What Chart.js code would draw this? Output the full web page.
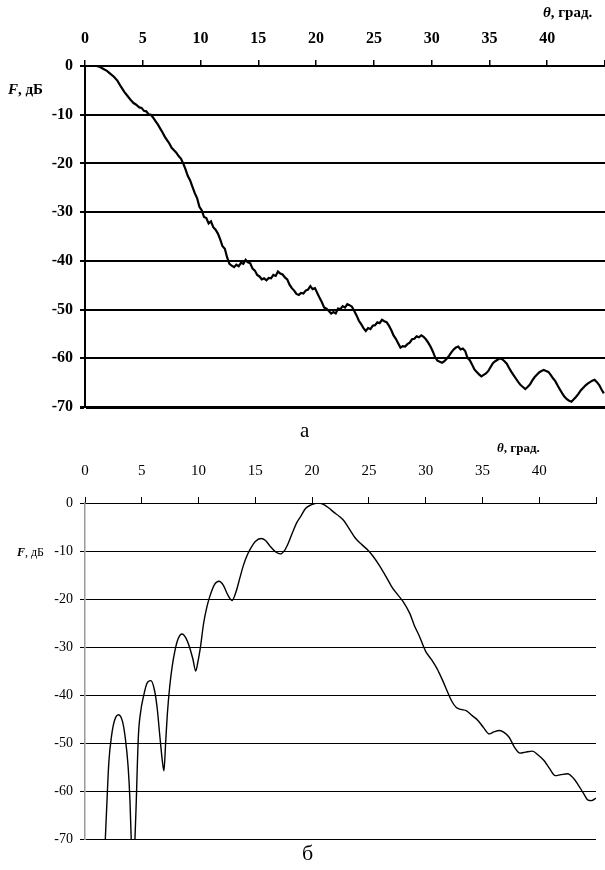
<!DOCTYPE html>
<html>
<head>
<meta charset="utf-8">
<script src="https://cdn.jsdelivr.net/npm/chart.js@4.4.1/dist/chart.umd.min.js"></script>
<style>
  html, body { margin: 0; padding: 0; background: #fff; }
  body { width: 605px; height: 870px; position: relative; overflow: hidden; font-family: "Liberation Serif", "DejaVu Serif", serif; color: #000; }
  .box { position: absolute; left: 0; width: 605px; }
  .lbl { position: absolute; white-space: nowrap; line-height: 1; }
  .it { font-style: italic; font-weight: bold; }
</style>
</head>
<body>
<div class="box" style="top:0;height:420px;"><canvas id="chartA"></canvas></div>
<div class="box" style="top:440px;height:430px;"><canvas id="chartB"></canvas></div>

<div class="lbl" style="left:543px;top:5px;font-size:15px;font-weight:bold;"><span class="it">θ</span>, град.</div>
<div class="lbl" style="left:8px;top:82px;font-size:15px;font-weight:bold;"><span class="it">F</span>, дБ</div>
<div class="lbl" style="left:300px;top:420px;font-size:21px;">а</div>

<div class="lbl" style="left:497px;top:441px;font-size:13px;font-weight:bold;"><span class="it">θ</span>, град.</div>
<div class="lbl" style="left:17px;top:546px;font-size:12px;"><span class="it">F</span>, дБ</div>
<div class="lbl" style="left:302px;top:842px;font-size:22px;">б</div>

<script>
// ---- Chart а: measured pattern ----
const thetaA = [1.0,1.3,1.6,1.9,2.2,2.5,2.8,3.1,3.4,3.7,4.0,4.2,4.4,4.7,4.9,5.1,5.3,5.5,5.7,5.9,
  6.1,6.3,6.5,6.7,6.9,7.1,7.3,7.5,7.7,7.9,8.1,8.3,8.5,8.7,8.9,9.1,9.3,9.5,9.7,9.9,
  10.1,10.3,10.5,10.7,10.9,11.1,11.3,11.5,11.7,11.9,12.1,12.3,12.5,12.7,12.9,13.1,13.3,13.5,13.7,13.9,
  14.1,14.3,14.5,14.7,14.9,15.1,15.3,15.5,15.7,15.9,16.1,16.3,16.5,16.7,16.9,17.1,17.3,17.5,17.7,17.9,
  18.1,18.3,18.5,18.7,18.9,19.1,19.3,19.5,19.7,19.9,20.1,20.3,20.5,20.7,20.9,21.1,21.3,21.5,21.7,21.9,
  22.1,22.3,22.5,22.7,22.9,23.1,23.3,23.5,23.7,23.9,24.1,24.3,24.5,24.7,24.9,25.1,25.3,25.5,25.7,25.9,
  26.1,26.3,26.5,26.7,26.9,27.1,27.3,27.5,27.7,27.9,28.1,28.3,28.5,28.7,28.9,29.1,29.3,29.5,29.7,29.9,
  30.1,30.3,30.5,30.7,30.9,31.1,31.3,31.5,31.7,31.9,32.1,32.3,32.5,32.7,32.9,33.1,33.3,33.5,33.7,33.9,
  34.1,34.3,34.5,34.7,34.9,35.1,35.3,35.5,35.7,35.9,36.1,36.3,36.5,36.7,36.9,37.1,37.3,37.5,37.7,37.9,
  38.1,38.3,38.5,38.7,38.9,39.1,39.3,39.5,39.7,39.9,40.1,40.3,40.5,40.7,40.9,41.1,41.3,41.5,41.7,41.9,
  42.1,42.3,42.5,42.7,42.9,43.1,43.3,43.5,43.7,43.9,44.1,44.3,44.5,44.7,44.9];
const valuesA = [0,-0.2,-0.6,-1.0,-1.6,-2.2,-3.0,-4.2,-5.3,-6.2,-7.1,-7.6,-7.9,-8.5,-8.6,-9.2,-9.3,-9.9,-10.0,-10.6,
  -11.3,-12.0,-12.8,-13.6,-14.5,-15.2,-15.9,-16.8,-17.3,-17.8,-18.5,-19.0,-20.0,-21.2,-22.6,-23.5,-24.8,-26.1,-27.1,-28.9,
  -29.6,-31.0,-31.2,-32.3,-31.9,-33.1,-33.6,-34.4,-35.6,-37.0,-37.5,-39.3,-40.6,-41.0,-41.3,-40.8,-41.1,-40.4,-40.6,-39.8,
  -40.3,-40.5,-41.6,-42.0,-42.9,-43.2,-43.8,-43.6,-44.0,-43.5,-43.6,-42.9,-43.1,-42.2,-42.6,-42.8,-43.4,-43.8,-44.9,-45.6,
  -46.1,-46.8,-47.0,-46.6,-46.7,-46.1,-45.9,-45.2,-45.8,-45.6,-46.6,-47.6,-48.5,-49.6,-49.8,-50.3,-50.8,-50.5,-50.8,-49.8,
  -49.9,-49.3,-49.6,-48.9,-49.1,-49.4,-50.3,-51.2,-52.3,-53.0,-53.8,-54.4,-53.8,-54.0,-53.3,-53.2,-52.6,-52.8,-52.1,-52.4,
  -52.6,-53.3,-54.2,-55.3,-56.0,-56.9,-57.8,-57.5,-57.6,-57.1,-56.8,-56.1,-56.0,-55.5,-55.7,-55.3,-55.6,-56.1,-56.8,-57.6,
  -58.6,-59.8,-60.5,-60.7,-60.9,-60.6,-60.1,-59.5,-58.8,-58.2,-57.8,-57.6,-58.2,-58.0,-58.5,-59.9,-60.4,-61.3,-62.3,-62.8,
  -63.3,-63.7,-63.4,-63.1,-62.6,-61.8,-61.0,-60.6,-60.3,-60.0,-60.2,-60.6,-61.1,-62.0,-62.8,-63.5,-64.2,-64.9,-65.5,-65.9,
  -66.3,-65.9,-65.4,-64.6,-63.9,-63.4,-62.9,-62.6,-62.4,-62.6,-62.8,-63.4,-64.1,-64.7,-65.6,-66.4,-67.2,-67.9,-68.4,-68.7,
  -68.9,-68.4,-67.9,-67.3,-66.6,-66.1,-65.6,-65.2,-64.9,-64.6,-64.4,-64.9,-65.5,-66.4,-67.2];

// ---- Chart б ----
const thetaB = [1.6,1.79,1.91,2.1,2.35,2.6,2.95,3.3,3.55,3.8,3.96,4.07,4.22,4.4,4.49,4.7,4.9,5.15,5.45,5.8,
  6.1,6.35,6.6,6.8,6.95,7.1,7.25,7.45,7.65,7.9,8.2,8.55,8.9,9.2,9.5,9.75,9.95,10.15,10.45,10.75,
  11.0,11.4,11.8,12.2,12.5,12.95,13.3,13.65,13.95,14.3,14.6,15.0,15.5,15.9,16.3,16.8,17.2,17.6,17.9,18.3,
  18.65,19.0,19.4,19.9,20.5,21.0,21.5,21.9,22.4,22.8,23.3,23.8,24.3,24.9,25.4,26.0,26.5,27.0,27.5,28.0,
  28.6,29.0,29.4,30.0,30.5,31.0,31.5,31.9,32.3,32.7,33.1,33.6,34.1,34.6,35.1,35.6,36.0,36.5,36.9,37.35,
  37.8,38.3,38.8,39.4,39.9,40.4,40.9,41.4,41.9,42.5,43.0,43.4,43.9,44.3,44.6,45.0];
const valuesB = [-80,-70,-63.5,-54,-48.3,-45.3,-44.1,-45.5,-49,-55,-62,-70,-84,-70,-64,-48.6,-43.5,-40.3,-37.6,-37,
  -38.8,-42.6,-48.8,-53.5,-55.8,-50,-44,-38.5,-34.5,-31,-28.3,-27.3,-28.2,-30,-32.5,-35,-33,-30.3,-25,-21.5,
  -19.4,-17,-16.3,-17.2,-18.8,-20.3,-18.5,-15.5,-13,-10.8,-9.4,-8.0,-7.4,-7.8,-9.0,-10.2,-10.6,-9.8,-8.4,-6.0,
  -4.1,-2.8,-1.2,-0.4,0,-0.3,-1.1,-1.9,-2.8,-3.7,-5.5,-7.3,-8.5,-9.8,-11.2,-13.3,-15.3,-17.4,-19.0,-20.5,
  -23.0,-25.5,-27.5,-30.9,-32.6,-34.5,-37.0,-39.2,-41.3,-42.6,-43.0,-43.3,-44.3,-45.3,-46.8,-48.1,-47.7,-47.4,-47.8,-48.8,
  -50.8,-52.1,-51.9,-51.7,-52.5,-53.6,-55.3,-56.8,-56.6,-56.4,-57.3,-58.6,-60.5,-61.9,-62.0,-61.5];

const xTicks = [0,5,10,15,20,25,30,35,40];
const yTicks = [0,-10,-20,-30,-40,-50,-60,-70];

function pts(xs, ys) { return xs.map((x, i) => ({ x: x, y: ys[i] })); }

function makeChart(id, opt) {
  return new Chart(document.getElementById(id), {
    type: 'line',
    data: { datasets: [{
      data: pts(opt.xs, opt.ys),
      borderColor: '#000', borderWidth: opt.lw, pointRadius: 0,
      tension: 0, cubicInterpolationMode: opt.smooth ? 'monotone' : 'default'
    }]},
    options: {
      responsive: true, maintainAspectRatio: false, animation: false,
      devicePixelRatio: 1,
      layout: { padding: { left: 0, right: opt.padRight, top: 0, bottom: opt.padBottom } },
      plugins: { legend: { display: false }, tooltip: { enabled: false } },
      scales: {
        x: {
          type: 'linear', position: 'top', min: 0, max: 45,
          afterFit: s => { s.height = opt.xAxisH; s.paddingLeft = 0; s.paddingRight = 0; },
          afterBuildTicks: s => { s.ticks = xTicks.concat([45]).map(v => ({ value: v })); },
          ticks: {
            color: '#000', padding: opt.xPad, maxRotation: 0, autoSkip: false,
            font: { family: 'Liberation Serif', size: opt.xFont, weight: opt.bold ? 'bold' : 'normal' },
            callback: v => (xTicks.includes(v) ? String(v) : '')
          },
          grid: { display: true, drawOnChartArea: false, drawTicks: true, tickLength: 6,
                  color: '#000', lineWidth: opt.tickW },
          border: { display: true, color: '#000', width: opt.gridW }
        },
        y: {
          type: 'linear', min: -70, max: 0,
          afterFit: s => { s.width = 85; s.paddingTop = 0; s.paddingBottom = 0; },
          afterBuildTicks: s => { s.ticks = yTicks.map(v => ({ value: v })); },
          ticks: {
            color: '#000', padding: opt.yPad,
            font: { family: 'Liberation Serif', size: opt.yFont, weight: opt.bold ? 'bold' : 'normal' },
            callback: v => String(v)
          },
          grid: { color: '#000', lineWidth: c => (c.tick && c.tick.value === -70 ? opt.bottomW : opt.gridW),
                  drawTicks: true, tickLength: 5 },
          border: { display: true, color: opt.yAxisColor, width: opt.yAxisW }
        }
      }
    }
  });
}

makeChart('chartA', {
  xs: thetaA, ys: valuesA, lw: 2.2, smooth: false,
  padRight: 0, padBottom: 13, xAxisH: 66, xPad: 12, xFont: 16, yFont: 16, yPad: 7,
  bold: true, gridW: 2, bottomW: 3, tickW: 1.5, yAxisColor: '#000', yAxisW: 2
});
makeChart('chartB', {
  xs: thetaB, ys: valuesB, lw: 1.4, smooth: true,
  padRight: 9, padBottom: 31, xAxisH: 63, xPad: 17, xFont: 15, yFont: 14, yPad: 7,
  bold: false, gridW: 1, bottomW: 1, tickW: 1, yAxisColor: '#9a9a9a', yAxisW: 1.5
});
</script>
</body>
</html>
